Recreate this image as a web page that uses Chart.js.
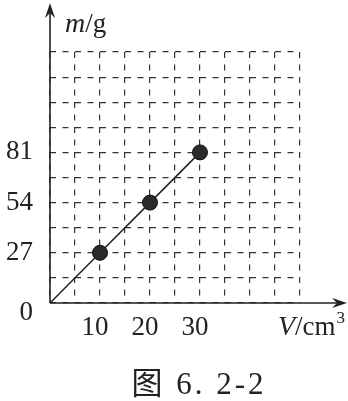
<!DOCTYPE html>
<html>
<head>
<meta charset="utf-8">
<script src="https://cdn.jsdelivr.net/npm/chart.js@4"></script>
<style>
  body { margin: 0; background: #fff; }
  #wrap { position: relative; width: 348px; height: 401px; }
  #caption {
    position: absolute; left: 0; top: 358px; width: 348px;
    padding-left: 50px; box-sizing: border-box; text-align: center;
    font: 31px "Liberation Serif", "Noto Sans CJK SC"; color: #222; letter-spacing: 3px;
  }
</style>
</head>
<body>
<div id="wrap">
  <canvas id="canvDensity"></canvas>
  <div id="caption">图 6.&nbsp;2-2</div>
</div>
<script>
// measured points (origin first, no marker there)
const volumes = [0, 10, 20, 30];
const masses = [0, 27, 54, 81];
const xTickLabels = [10, 20, 30];
const yTickLabels = [27, 54, 81];
const xMax = 50, xStep = 5;
const yMax = 135, yStep = 13.5;

const inkColor = '#222';
const tickFont = { family: 'Liberation Serif', size: 27 };

// draw an arrow head with its tip at (x, y)
function arrowHead(ctx, x, y, dir) {
    ctx.save();
    ctx.translate(x, y);
    if (dir === 'up') ctx.rotate(-Math.PI / 2);
    ctx.beginPath();
    ctx.moveTo(0, 0);
    ctx.lineTo(-15, -5);
    ctx.lineTo(-10, 0);
    ctx.lineTo(-15, 5);
    ctx.closePath();
    ctx.fill();
    ctx.restore();
}

// text with italic variable name, e.g. m/g
function drawUnit(ctx, x, y, italic, rest, sup) {
    ctx.font = 'italic 28px "Liberation Serif"';
    ctx.fillText(italic, x, y);
    x += ctx.measureText(italic).width;
    ctx.font = '27px "Liberation Serif"';
    ctx.fillText(rest, x, y);
    if (sup) {
        x += ctx.measureText(rest).width + 1;
        ctx.font = '17px "Liberation Serif"';
        ctx.fillText(sup, x, y - 12);
    }
}

const axesPlugin = {
    id: 'axesPlugin',
    afterDraw(chart) {
        const ctx = chart.ctx;
        const sx = chart.scales.x, sy = chart.scales.y;
        const ox = sx.getPixelForValue(0), oy = sy.getPixelForValue(0);
        ctx.save();
        ctx.strokeStyle = inkColor;
        ctx.fillStyle = inkColor;
        ctx.lineWidth = 1.6;
        ctx.beginPath();
        ctx.moveTo(ox, oy); ctx.lineTo(ox, 12);
        ctx.moveTo(ox, oy); ctx.lineTo(chart.width - 10, oy);
        ctx.stroke();
        arrowHead(ctx, ox, 3, 'up');
        arrowHead(ctx, chart.width - 1, oy, 'right');

        ctx.font = '27px "Liberation Serif"';
        ctx.textAlign = 'right';
        ctx.textBaseline = 'middle';
        ctx.fillText('0', ox - 17, oy + 10);

        ctx.textAlign = 'left';
        ctx.textBaseline = 'alphabetic';
        drawUnit(ctx, ox + 15, 32, 'm', '/g');
        drawUnit(ctx, 278, 335, 'V', '/cm', '3');
        ctx.restore();
    }
};

var densityChart = new Chart(document.getElementById('canvDensity'), {
    type: 'scatter',
    data: {
        datasets: [{
            data: volumes.map((v, i) => ({ x: v, y: masses[i] })),
            showLine: true,
            borderColor: inkColor,
            borderWidth: 1.5,
            pointRadius: ctx => ctx.dataIndex === 0 ? 0 : 7.5,
            pointBackgroundColor: '#2a2a2a',
            pointBorderColor: '#111',
            pointBorderWidth: 1
        }]
    },
    options: {
        responsive: true,
        maintainAspectRatio: false,
        animation: false,
        layout: { padding: { top: 52, right: 48, bottom: 53, left: 0 } },
        plugins: { legend: { display: false }, tooltip: { enabled: false } },
        scales: {
            x: {
                type: 'linear', min: 0, max: xMax,
                afterFit: s => { s.height = 45; },
                grid: { color: '#333', lineWidth: 1.2, drawTicks: false },
                border: { display: false, dash: [6, 6.5] },
                ticks: {
                    stepSize: xStep, autoSkip: false, maxRotation: 0,
                    padding: 9, labelOffset: -5,
                    color: inkColor, font: tickFont,
                    callback: v => xTickLabels.includes(v) ? String(v) : ''
                }
            },
            y: {
                type: 'linear', min: 0, max: yMax,
                afterFit: s => { s.width = 50; },
                grid: { color: '#333', lineWidth: 1.2, drawTicks: false },
                border: { display: false, dash: [6, 6.5] },
                ticks: {
                    stepSize: yStep, autoSkip: false,
                    padding: 17,
                    color: inkColor, font: tickFont,
                    callback: v => yTickLabels.includes(v) ? String(v) : ''
                }
            }
        }
    },
    plugins: [axesPlugin]
});
</script>
</body>
</html>
